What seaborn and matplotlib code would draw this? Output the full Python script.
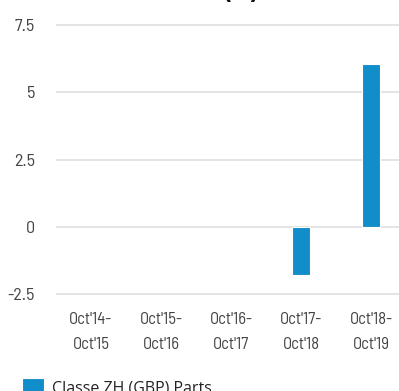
import numpy as np
import pandas as pd
import matplotlib
matplotlib.use("Agg")
import matplotlib.pyplot as plt
import seaborn as sns

# Calendar-year performance of the share class (no figures before Oct'17)
periods = ["Oct'14-\nOct'15", "Oct'15-\nOct'16", "Oct'16-\nOct'17",
           "Oct'17-\nOct'18", "Oct'18-\nOct'19"]
returns = [np.nan, np.nan, np.nan, -1.79, 6.04]
series_name = "Classe ZH (GBP) Parts"
y_ticks = [-2.5, 0, 2.5, 5, 7.5]
y_tick_labels = ["-2.5", "0", "2.5", "5", "7.5"]
title = "Performances annuelles (%)"

df = pd.DataFrame({"period": periods, "value": returns, "series": series_name})
df = df.dropna(subset=["value"])

sns.set_theme(style="white")
narrow = ["Barlow Semi Condensed", "DejaVu Sans"]
plt.rcParams["font.family"] = narrow

W, H = 399, 391
fig = plt.figure(figsize=(W / 100, H / 100), dpi=100)
ax = fig.add_axes([56 / W, 94.3 / H, 350 / W, 274.4 / H])

sns.barplot(data=df, x="period", y="value", hue="series", order=periods,
            palette=["#118dc9"], saturation=1, width=0.27,
            edgecolor="white", linewidth=0.8, ax=ax, zorder=3)

ax.set_ylim(-2.6, 7.6)
ax.set_xlim(-0.5, 4.5)
ax.set_yticks(y_ticks)
ax.set_yticklabels(y_tick_labels)
ax.grid(False)
ax.yaxis.grid(True, color="#e2e2e2", linewidth=1.3, zorder=0)
ax.set_axisbelow(True)
for s in ax.spines.values():
    s.set_visible(False)
ax.set_xlabel("")
ax.set_ylabel("")
ax.tick_params(axis="both", which="both", length=0, width=0)
ax.tick_params(axis="y", pad=15, labelsize=13, labelcolor="#444444")
ax.tick_params(axis="x", pad=11, labelsize=12, labelcolor="#444444")
for lab in ax.get_xticklabels():
    lab.set_linespacing(1.85)

leg = ax.legend(loc="upper left", bbox_to_anchor=(22 / W, 1 - 378 / H),
                bbox_transform=fig.transFigure, frameon=False,
                borderpad=0, borderaxespad=0, handlelength=1.35,
                handleheight=1.35, handletextpad=0.5,
                prop={"family": ["Open Sans", "DejaVu Sans"], "size": 11.5})
for t in leg.get_texts():
    t.set_color("#222222")

fig.text(18 / W, 390.8 / H, title, ha="left", va="baseline",
         fontsize=16.5, fontweight="bold", color="#111111",
         family=["Barlow Condensed", "DejaVu Sans"])

fig.savefig("out.png", dpi=100)
